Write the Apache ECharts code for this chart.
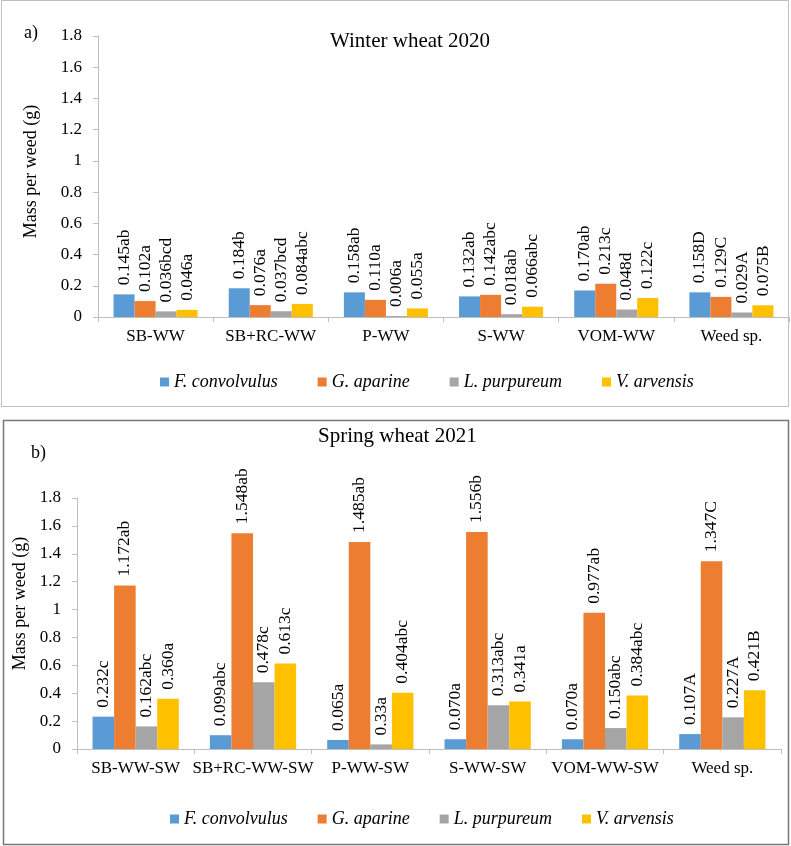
<!DOCTYPE html>
<html>
<head>
<meta charset="utf-8">
<script src="https://cdn.jsdelivr.net/npm/echarts@6/dist/echarts.min.js"></script>
<style>
  html, body { margin: 0; padding: 0; background: #fff; }
  #chart { width: 791px; height: 846px; }
</style>
</head>
<body>
<div id="chart"></div>
<script>
// species (legend) and colours
const species = ['F. convolvulus', 'G. aparine', 'L. purpureum', 'V. arvensis']
const colors = ['#5B9BD5', '#ED7D31', '#A5A5A5', '#FFC000']

// panel a) winter wheat 2020
const catsA = ['SB-WW', 'SB+RC-WW', 'P-WW', 'S-WW', 'VOM-WW', 'Weed sp.']
const fconvA = [0.145, 0.184, 0.158, 0.132, 0.170, 0.158]
const gaparA = [0.102, 0.076, 0.110, 0.142, 0.213, 0.129]
const lpurpA = [0.036, 0.037, 0.006, 0.018, 0.048, 0.029]
const varvA = [0.046, 0.084, 0.055, 0.066, 0.122, 0.075]
const fconvLabA = ['0.145ab', '0.184b', '0.158ab', '0.132ab', '0.170ab', '0.158D']
const gaparLabA = ['0.102a', '0.076a', '0.110a', '0.142abc', '0.213c', '0.129C']
const lpurpLabA = ['0.036bcd', '0.037bcd', '0.006a', '0.018ab', '0.048d', '0.029A']
const varvLabA = ['0.046a', '0.084abc', '0.055a', '0.066abc', '0.122c', '0.075B']

// panel b) spring wheat 2021
const catsB = ['SB-WW-SW', 'SB+RC-WW-SW', 'P-WW-SW', 'S-WW-SW', 'VOM-WW-SW', 'Weed sp.']
const fconvB = [0.232, 0.099, 0.065, 0.070, 0.070, 0.107]
const gaparB = [1.172, 1.548, 1.485, 1.556, 0.977, 1.347]
const lpurpB = [0.162, 0.478, 0.033, 0.313, 0.150, 0.227]
const varvB = [0.360, 0.613, 0.404, 0.341, 0.384, 0.421]
const fconvLabB = ['0.232c', '0.099abc', '0.065a', '0.070a', '0.070a', '0.107A']
const gaparLabB = ['1.172ab', '1.548ab', '1.485ab', '1.556b', '0.977ab', '1.347C']
const lpurpLabB = ['0.162abc', '0.478c', '0.33a', '0.313abc', '0.150abc', '0.227A']
const varvLabB = ['0.360a', '0.613c', '0.404abc', '0.341a', '0.384abc', '0.421B']

const yTicks = { min: 0, max: 1.8, interval: 0.2 }

const FONT = '"Liberation Serif", "Times New Roman", serif'
const AXIS_COLOR = '#bfbfbf'

function makeXAxis(gridIndex, cats) {
  return {
    type: 'category',
    gridIndex,
    data: cats,
    axisLine: { lineStyle: { color: AXIS_COLOR, width: 1 } },
    axisTick: { show: true, length: 5, lineStyle: { color: AXIS_COLOR } },
    axisLabel: { color: '#000', fontFamily: FONT, fontSize: 17, margin: 11, interval: 0 },
    splitLine: { show: false },
  }
}

function makeYAxis(gridIndex, nameGap, namePad) {
  return {
    type: 'value',
    gridIndex,
    min: yTicks.min,
    max: yTicks.max,
    interval: yTicks.interval,
    name: 'Mass per weed (g)',
    nameLocation: 'middle',
    nameGap,
    nameTextStyle: { color: '#000', fontFamily: FONT, fontSize: 18, padding: [0, 0, 0, namePad] },
    axisLine: { show: true, lineStyle: { color: AXIS_COLOR, width: 1 } },
    axisTick: { show: true, length: 5, lineStyle: { color: AXIS_COLOR } },
    axisLabel: { color: '#000', fontFamily: FONT, fontSize: 17, margin: 16 },
    splitLine: { show: false },
  }
}

function makeSeries(axisIndex, values, labels, idx, catGap) {
  return {
    type: 'bar',
    name: species[idx],
    xAxisIndex: axisIndex,
    yAxisIndex: axisIndex,
    data: values,
    barGap: '0%',
    barCategoryGap: catGap,
    itemStyle: { color: colors[idx] },
    label: {
      show: true,
      position: 'top',
      rotate: 90,
      align: 'left',
      verticalAlign: 'middle',
      distance: 9,
      color: '#000',
      fontFamily: FONT,
      fontSize: 17.5,
      formatter: (p) => labels[p.dataIndex],
    },
  }
}

function makeLegend(top, left, gap) {
  return {
    top,
    left,
    orient: 'horizontal',
    icon: 'rect',
    itemWidth: 9,
    itemHeight: 9,
    itemGap: gap,
    data: species,
    selectedMode: false,
    textStyle: { color: '#000', fontFamily: FONT, fontSize: 18, fontStyle: 'italic' },
  }
}

const chart = echarts.init(document.getElementById('chart'), null, { renderer: 'canvas' })

chart.setOption({
  backgroundColor: '#fff',
  animation: false,
  title: [
    { text: 'Winter wheat 2020', left: 330, top: 31, textStyle: { color: '#000', fontFamily: FONT, fontSize: 21, fontWeight: 'normal' }, padding: 0 },
    { text: 'Spring wheat 2021', left: 318, top: 426, textStyle: { color: '#000', fontFamily: FONT, fontSize: 21, fontWeight: 'normal' }, padding: 0 },
    { text: 'a)', left: 24, top: 24, textStyle: { color: '#000', fontFamily: FONT, fontSize: 18, fontWeight: 'normal' }, padding: 0 },
    { text: 'b)', left: 31, top: 444, textStyle: { color: '#000', fontFamily: FONT, fontSize: 18, fontWeight: 'normal' }, padding: 0 },
  ],
  legend: [makeLegend(368, 155, 40), makeLegend(805, 165, 30)],
  grid: [
    { left: 98, top: 36, width: 691, height: 281, containLabel: false },
    { left: 77, top: 498, width: 704, height: 251, containLabel: false },
  ],
  xAxis: [makeXAxis(0, catsA), makeXAxis(1, catsB)],
  yAxis: [makeYAxis(0, 58, 10), makeYAxis(1, 44, 40)],
  series: [
    makeSeries(0, fconvA, fconvLabA, 0, '27%'),
    makeSeries(0, gaparA, gaparLabA, 1, '27%'),
    makeSeries(0, lpurpA, lpurpLabA, 2, '27%'),
    makeSeries(0, varvA, varvLabA, 3, '27%'),
    makeSeries(1, fconvB, fconvLabB, 0, '26.5%'),
    makeSeries(1, gaparB, gaparLabB, 1, '26.5%'),
    makeSeries(1, lpurpB, lpurpLabB, 2, '26.5%'),
    makeSeries(1, varvB, varvLabB, 3, '26.5%'),
  ],
  graphic: [
    { type: 'rect', shape: { x: 1.5, y: 0.5, width: 787, height: 406 }, style: { fill: 'none', stroke: '#c0c0c0', lineWidth: 1 }, silent: true },
    { type: 'rect', shape: { x: 3.5, y: 420.5, width: 785, height: 424 }, style: { fill: 'none', stroke: '#777777', lineWidth: 1.5 }, silent: true },
  ],
})
</script>
</body>
</html>
